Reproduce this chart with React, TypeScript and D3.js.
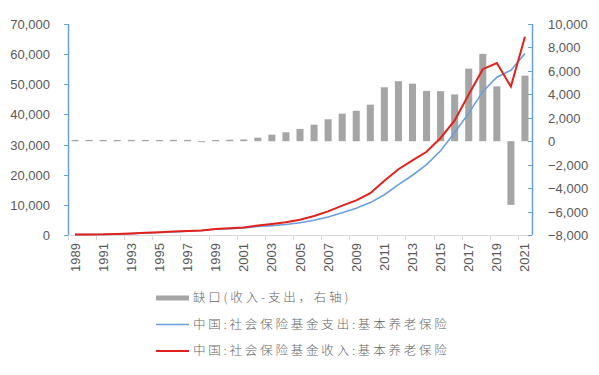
import React, { useEffect, useRef } from 'react';
import * as d3 from 'd3';

// 单位：亿元
const years = d3.range(1989, 2022).map(String);

const income = [
  147, 179, 216, 366, 504, 707, 950, 1172, 1338, 1459, 1965, 2278, 2489, 3171,
  3680, 4258, 5093, 6310, 7834, 9740, 11491, 13873, 17965, 21830, 24733, 27620,
  32195, 37991, 46614, 55005, 57026, 49229, 65793,
];

const expenditure = [
  119, 149, 173, 322, 471, 661, 848, 1032, 1251, 1512, 1925, 2116, 2321, 2843,
  3122, 3502, 4040, 4897, 5965, 7390, 8894, 10755, 13364, 16712, 19819, 23326,
  27929, 34004, 40424, 47550, 52342, 54656, 60197,
];

// 缺口 = 收入 - 支出 (右轴)
const gap = [
  110, 110, 110, 110, 110, 110, 110, 120, 110, -80, 110, 130, 150, 300, 560, 760,
  1050, 1410, 1870, 2350, 2600, 3120, 4600, 5120, 4910, 4290, 4270, 3990, 6190,
  7455, 4684, -5427, 5596,
];

const leftTicks = [0, 10000, 20000, 30000, 40000, 50000, 60000, 70000];
const rightTicks = [-8000, -6000, -4000, -2000, 0, 2000, 4000, 6000, 8000, 10000];

const legendItems = [
  { label: '缺口(收入-支出，右轴)', type: 'bar' },
  { label: '中国:社会保险基金支出:基本养老保险', type: 'blue' },
  { label: '中国:社会保险基金收入:基本养老保险', type: 'red' },
];

const App = () => {
  const svgRef = useRef(null);

  useEffect(() => {
    document.body.style.margin = '0';

    const width = 599;
    const height = 375;
    const left = 68;
    const right = 532;
    const top = 24;
    const bottom = 235;

    const axisBlue = '#6b9fd8';
    const textGray = '#595959';
    const numFont = '"Liberation Sans", Arial, sans-serif';
    const cjkFont = '"Noto Sans CJK SC", sans-serif';

    const svg = d3.select(svgRef.current)
      .attr('width', width)
      .attr('height', height)
      .style('display', 'block')
      .style('background', '#fff');

    svg.selectAll('*').remove();

    const x = d3.scaleBand()
      .domain(years)
      .range([left, right])
      .paddingInner(0.5)
      .paddingOuter(0.25);

    const step = x.step();
    const cx = (yr) => x(yr) + x.bandwidth() / 2;

    const yL = d3.scaleLinear().domain([0, 70000]).range([bottom, top]);
    const yR = d3.scaleLinear().domain([-8000, 10000]).range([bottom, top]);

    // x axis line and ticks every 2 categories
    svg.append('line')
      .attr('x1', left).attr('x2', right)
      .attr('y1', bottom + 0.5).attr('y2', bottom + 0.5)
      .attr('stroke', '#d9d9d9');

    d3.range(0, years.length + 1, 2).forEach((k) => {
      const xx = Math.round(left + step * k) + 0.5;
      svg.append('line')
        .attr('x1', xx).attr('x2', xx)
        .attr('y1', bottom).attr('y2', bottom + 5)
        .attr('stroke', '#d9d9d9');
    });

    // x labels (every other year), rotated
    years.filter((d, i) => i % 2 === 0).forEach((yr) => {
      svg.append('text')
        .attr('transform', `translate(${cx(yr) + 4.5},${bottom + 8}) rotate(-90)`)
        .attr('text-anchor', 'end')
        .attr('font-family', numFont)
        .attr('font-size', 13)
        .attr('fill', textGray)
        .text(yr);
    });

    // bars (right axis)
    svg.append('g')
      .selectAll('rect')
      .data(gap)
      .enter().append('rect')
      .attr('x', (d, i) => x(years[i]))
      .attr('width', x.bandwidth())
      .attr('y', (d) => Math.min(yR(d), yR(0)))
      .attr('height', (d) => Math.abs(yR(d) - yR(0)))
      .attr('fill', '#a5a5a5');

    // left axis
    svg.append('line')
      .attr('x1', left + 0.5).attr('x2', left + 0.5)
      .attr('y1', top).attr('y2', bottom)
      .attr('stroke', axisBlue).attr('stroke-width', 1.5);

    leftTicks.forEach((t) => {
      const yy = Math.round(yL(t)) + 0.5;
      svg.append('line')
        .attr('x1', left - 4).attr('x2', left)
        .attr('y1', yy).attr('y2', yy)
        .attr('stroke', axisBlue);
      svg.append('text')
        .attr('x', 50)
        .attr('y', yy)
        .attr('dy', '0.35em')
        .attr('text-anchor', 'end')
        .attr('font-family', numFont)
        .attr('font-size', 13)
        .attr('fill', textGray)
        .text(d3.format(',')(t));
    });

    // right axis
    svg.append('line')
      .attr('x1', right + 0.5).attr('x2', right + 0.5)
      .attr('y1', top).attr('y2', bottom)
      .attr('stroke', axisBlue).attr('stroke-width', 1.5);

    rightTicks.forEach((t) => {
      const yy = Math.round(yR(t)) + 0.5;
      svg.append('line')
        .attr('x1', right - 4).attr('x2', right)
        .attr('y1', yy).attr('y2', yy)
        .attr('stroke', axisBlue);
      svg.append('text')
        .attr('x', 548)
        .attr('y', yy)
        .attr('dy', '0.35em')
        .attr('text-anchor', 'start')
        .attr('font-family', numFont)
        .attr('font-size', 13)
        .attr('fill', textGray)
        .text(d3.format(',')(t));
    });

    // lines (left axis)
    const line = d3.line()
      .x((d, i) => cx(years[i]))
      .y((d) => yL(d));

    svg.append('path')
      .datum(expenditure)
      .attr('fill', 'none')
      .attr('stroke', '#6a9fdc')
      .attr('stroke-width', 1.6)
      .attr('d', line);

    svg.append('path')
      .datum(income)
      .attr('fill', 'none')
      .attr('stroke', '#e3211c')
      .attr('stroke-width', 2)
      .attr('d', line);

    // legend
    const lg = svg.append('g');
    legendItems.forEach((item, i) => {
      const yy = 298 + i * 26.5;
      if (item.type === 'bar') {
        lg.append('rect')
          .attr('x', 156).attr('y', yy - 2.5)
          .attr('width', 33).attr('height', 5)
          .attr('fill', '#a5a5a5');
      } else {
        lg.append('line')
          .attr('x1', 156).attr('x2', 189)
          .attr('y1', yy).attr('y2', yy)
          .attr('stroke', item.type === 'blue' ? '#6a9fdc' : '#e3211c')
          .attr('stroke-width', item.type === 'blue' ? 1.6 : 2);
      }
      lg.append('text')
        .attr('x', 193)
        .attr('y', yy)
        .attr('dy', '0.35em')
        .attr('font-family', cjkFont)
        .attr('font-weight', 300)
        .attr('font-size', 12.5)
        .attr('letter-spacing', 2.8)
        .attr('fill', '#666')
        .text(item.label);
    });
  }, []);

  return <svg ref={svgRef}></svg>;
};

export default App;
